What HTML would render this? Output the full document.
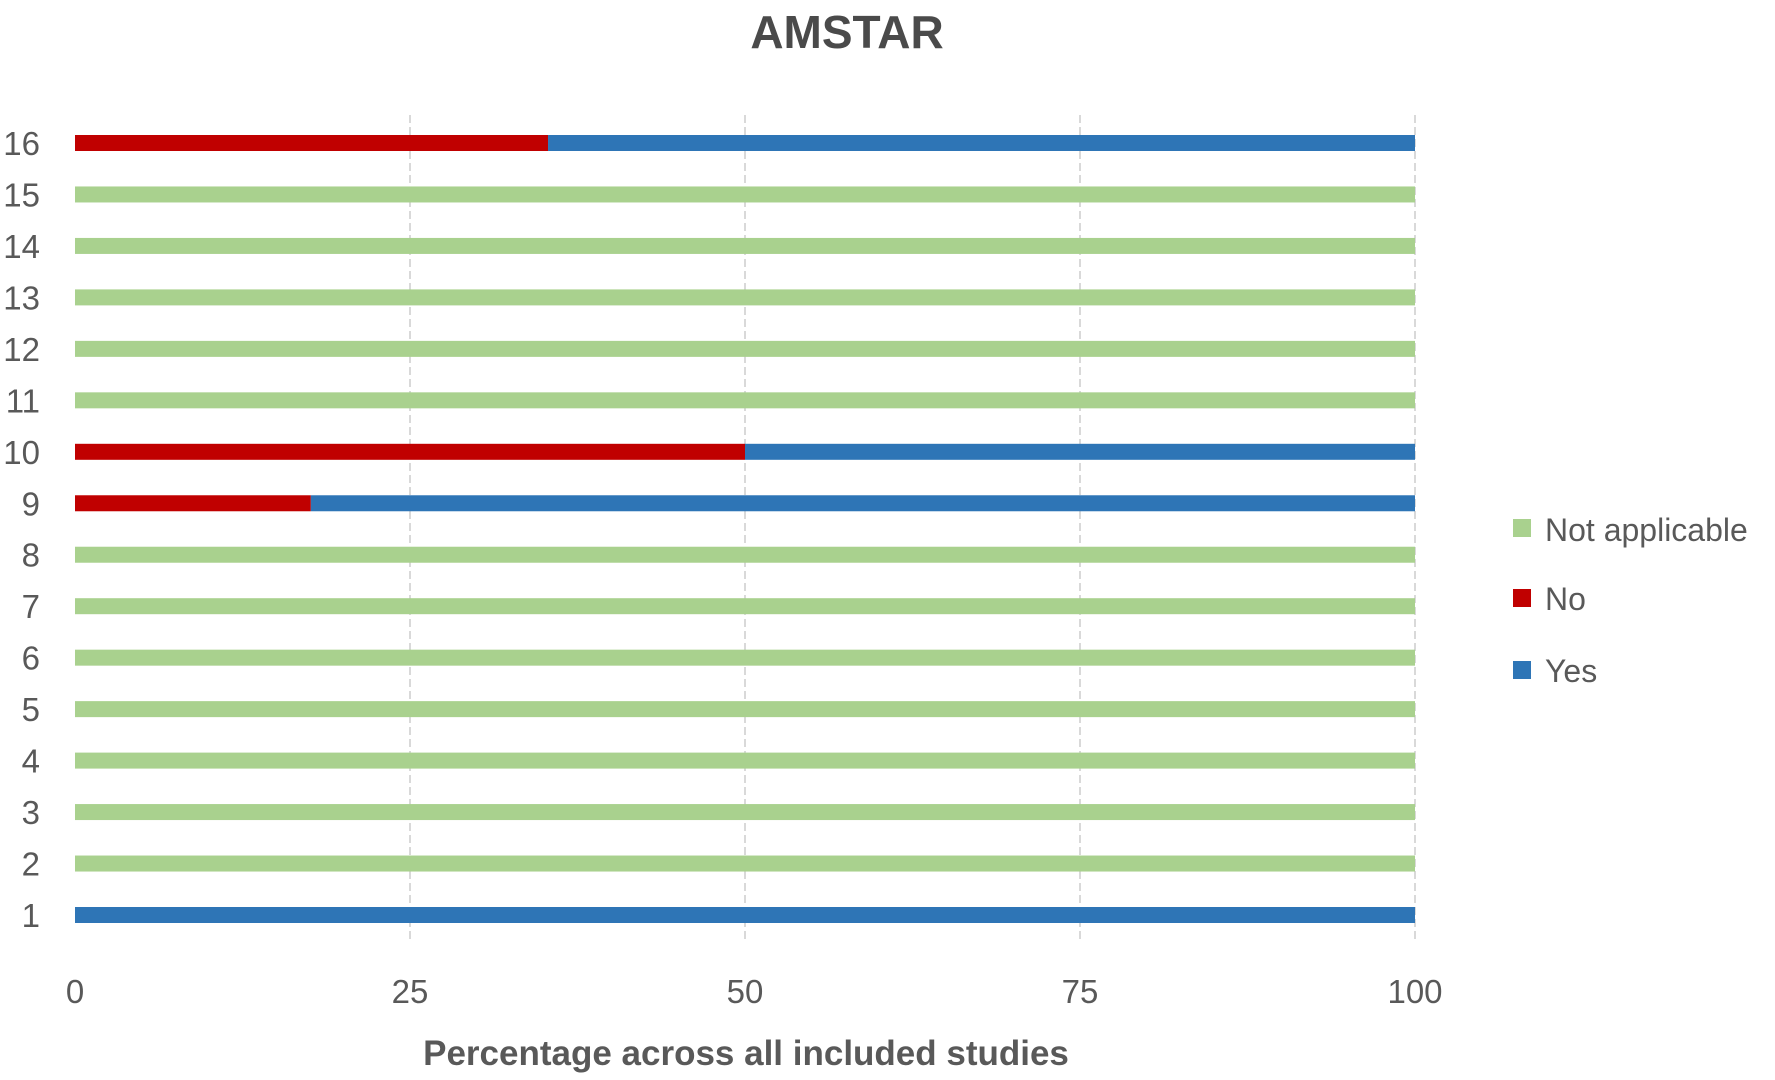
<!DOCTYPE html>
<html><head><meta charset="utf-8"><style>
html,body{margin:0;padding:0;background:#fff}
svg{display:block;font-family:"Liberation Sans",sans-serif}
</style></head><body>
<svg id="chart" width="1775" height="1080">
<text x="847" y="48" text-anchor="middle" font-size="46" font-weight="bold" fill="#4a4a4a">AMSTAR</text>
<g id="grid"></g><g id="bars"></g><g id="ylab"></g><g id="xlab"></g>
<text x="746" y="1065" text-anchor="middle" font-size="35" font-weight="bold" fill="#595959">Percentage across all included studies</text>
<g>
<rect x="1513" y="519" width="18" height="18" fill="#a9d18e"/>
<text x="1545" y="541" font-size="32" fill="#595959">Not applicable</text>
<rect x="1513" y="589" width="18" height="18" fill="#c00000"/>
<text x="1545" y="610" font-size="32" fill="#595959">No</text>
<rect x="1513" y="661" width="18" height="18" fill="#2e75b6"/>
<text x="1545" y="682" font-size="32" fill="#595959">Yes</text>
</g>
</svg>
<script>
const categories=["1","2","3","4","5","6","7","8","9","10","11","12","13","14","15","16"];
const noValues=[0,0,0,0,0,0,0,0,17.6,50,0,0,0,0,0,35.3];
const yesValues=[100,0,0,0,0,0,0,0,82.4,50,0,0,0,0,0,64.7];
const naValues=[0,100,100,100,100,100,100,100,0,0,100,100,100,100,100,0];
const xTicks=[0,25,50,75,100];
const NS="http://www.w3.org/2000/svg";
const x=v=>75+v*(1415-75)/100;
const y=i=>915-i*(915-143)/15;
const bh=16;
function mk(t,a,p){const e=document.createElementNS(NS,t);for(const k in a)e.setAttribute(k,a[k]);document.getElementById(p).appendChild(e);return e;}
xTicks.forEach(t=>{
  if(t>0){const l=mk('line',{x1:x(t),x2:x(t),y1:115,y2:940,stroke:'#d9d9d9','stroke-width':2,'stroke-dasharray':'8,4'},'grid');
  
  }
  const tx=mk('text',{x:x(t),y:1003,'text-anchor':'middle','font-size':33,fill:'#595959'},'xlab');tx.textContent=t;
  
  
});
categories.forEach((c,i)=>{
  const yy=y(i);
  const tx=mk('text',{x:40,y:yy+12,'text-anchor':'end','font-size':33,fill:'#595959'},'ylab');tx.textContent=c;
  
  
  let acc=0;
  [[noValues,'#c00000','no'],[yesValues,'#2e75b6','yes'],[naValues,'#a9d18e','not-applicable']].forEach(([arr,col,nm])=>{
    const v=arr[i];if(v<=0)return;
    const r=mk('rect',{x:x(acc),y:yy-bh/2,width:x(acc+v)-x(acc),height:bh,fill:col},'bars');
    
    
    acc+=v;
  });
});
</script>
</body></html>
